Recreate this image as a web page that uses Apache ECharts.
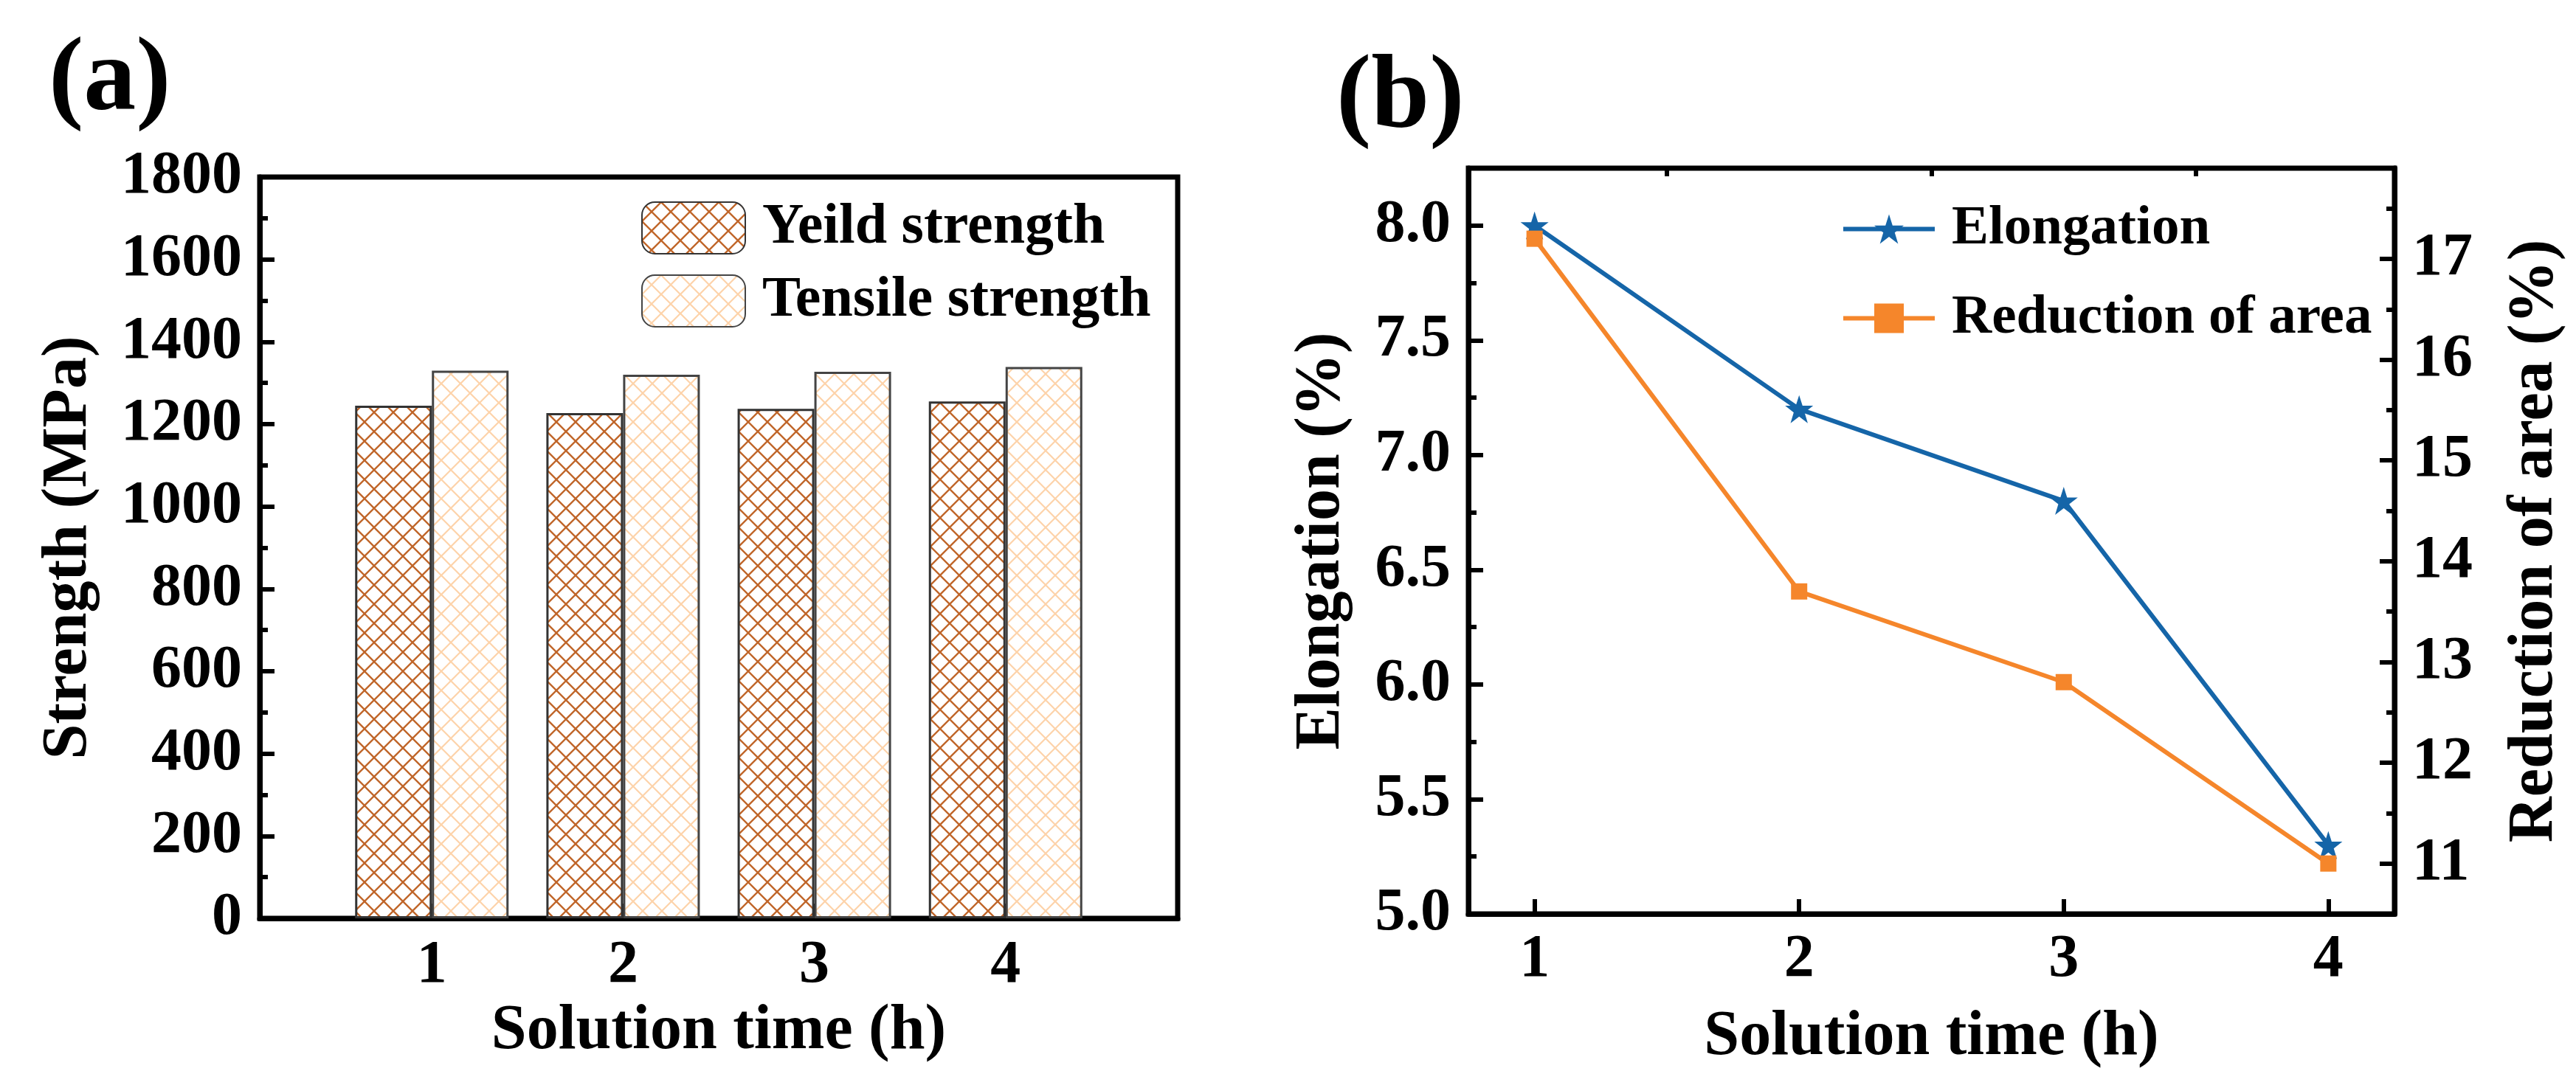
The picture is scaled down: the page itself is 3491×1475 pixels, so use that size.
<!DOCTYPE html>
<html>
<head>
<meta charset="utf-8">
<script src="https://cdn.jsdelivr.net/npm/echarts@6/dist/echarts.min.js"></script>
<style>
html,body{margin:0;padding:0;background:#fff;}
#chart{width:3491px;height:1475px;}
</style>
</head>
<body>
<div id="chart"></div>
<script>
// ---------- data ----------
const categories = [1, 2, 3, 4];
const yieldStrength = [1245, 1227, 1237, 1255];
const tensileStrength = [1330, 1320, 1327, 1339];
const elongation = [8.0, 7.2, 6.8, 5.3];
const reductionOfArea = [17.2, 13.7, 12.8, 11.0];

const strengthTicks = [0, 200, 400, 600, 800, 1000, 1200, 1400, 1600, 1800];
const timeTicks = [1, 2, 3, 4];
const timeMinorTicks = [1.5, 2.5, 3.5];
const elongTicks = [5.0, 5.5, 6.0, 6.5, 7.0, 7.5, 8.0];
const elongMinorTicks = [5.25, 5.75, 6.25, 6.75, 7.25, 7.75];
const areaTicks = [11, 12, 13, 14, 15, 16, 17];
const areaMinorTicks = [11.5, 12.5, 13.5, 14.5, 15.5, 16.5, 17.5];

// ---------- styles ----------
const FONT = "'Liberation Serif', 'Times New Roman', serif";
const txt = (size) => ({ fontFamily: FONT, fontWeight: 'bold', fontSize: size, color: '#000' });

function hatch(color, lw) {
  const c = document.createElement('canvas');
  c.width = 26; c.height = 26;
  const g = c.getContext('2d');
  g.fillStyle = '#fff'; g.fillRect(0, 0, 26, 26);
  g.strokeStyle = color; g.lineWidth = lw;
  g.beginPath();
  g.moveTo(0, 0); g.lineTo(26, 26);
  g.moveTo(26, 0); g.lineTo(0, 26);
  g.stroke();
  return c;
}
const yieldPattern = { image: hatch('#c0662a', 2.4), repeat: 'repeat' };
const tensilePattern = { image: hatch('#fdd3aa', 2.2), repeat: 'repeat' };

const STAR = 'path://M50,0 L61.8,35.3 L99,35.3 L69,57.6 L80.2,93 L50,71 L19.8,93 L31,57.6 L1,35.3 L38.2,35.3 Z';
const BLUE = '#1565a8';
const ORANGE = '#f5862b';

const axisLineStyle = { show: true, onZero: false, lineStyle: { color: '#000', width: 7 } };
const majorTick = (vals) => ({ show: true, inside: true, length: 20, lineStyle: { color: '#000', width: 6 }, customValues: vals });
const minorTickAxis = (vals) => ({ show: true, inside: true, length: 11, lineStyle: { color: '#000', width: 6 }, customValues: vals });

const chart = echarts.init(document.getElementById('chart'), null, { renderer: 'canvas' });

const option = {
  backgroundColor: '#fff',
  animation: false,
  graphic: [
    { type: 'text', left: 66, top: 40, style: { text: '(a)', font: "bold 142px 'Liberation Serif', serif", fill: '#000' } },
    { type: 'text', left: 1811, top: 64, style: { text: '(b)', font: "bold 142px 'Liberation Serif', serif", fill: '#000' } }
  ],
  grid: [
    { left: 352, top: 240, width: 1244, height: 1005, show: true, borderColor: '#000', borderWidth: 7, backgroundColor: 'transparent' },
    { left: 1990, top: 228, width: 1255, height: 1011, show: true, borderColor: '#000', borderWidth: 7, backgroundColor: 'transparent' }
  ],
  legend: [
    {
      orient: 'vertical', left: 864, top: 265, itemWidth: 140, itemHeight: 70, itemGap: 21,
      data: ['Yeild strength', 'Tensile strength'],
      textStyle: Object.assign(txt(78), { padding: [0, 0, 0, 18] })
    },
    {
      orient: 'vertical', left: 2490, top: 268, itemWidth: 124, itemHeight: 50, itemGap: 46,
      data: ['Elongation', 'Reduction of area'],
      lineStyle: { width: 6 },
      textStyle: Object.assign(txt(75), { padding: [0, 0, 0, 18] })
    }
  ],
  xAxis: [
    {
      gridIndex: 0, type: 'value', min: 0.1, max: 4.9,
      axisLine: axisLineStyle, axisTick: majorTick(timeTicks),
      axisLabel: Object.assign(txt(82), { margin: 24, customValues: timeTicks }),
      splitLine: { show: false },
      name: 'Solution time (h)', nameLocation: 'middle', nameGap: 110, nameTextStyle: txt(86)
    },
    {
      gridIndex: 1, type: 'value', min: 0.75, max: 4.25,
      axisLine: axisLineStyle, axisTick: majorTick(timeTicks),
      axisLabel: Object.assign(txt(82), { margin: 22, customValues: timeTicks }),
      splitLine: { show: false },
      name: 'Solution time (h)', nameLocation: 'middle', nameGap: 125, nameTextStyle: txt(86)
    },
    {
      gridIndex: 1, type: 'value', min: 0.75, max: 4.25,
      axisLine: { show: false }, axisTick: minorTickAxis(timeMinorTicks),
      axisLabel: { show: false }, splitLine: { show: false }
    }
  ],
  yAxis: [
    {
      gridIndex: 0, type: 'value', min: 0, max: 1800, interval: 200,
      axisLine: axisLineStyle,
      axisTick: { show: true, inside: true, length: 20, lineStyle: { color: '#000', width: 6 } },
      minorTick: { show: true, splitNumber: 2, length: 11, lineStyle: { color: '#000', width: 6 } },
      axisLabel: Object.assign(txt(82), { margin: 24, customValues: strengthTicks, formatter: (v) => String(v) }),
      splitLine: { show: false },
      name: 'Strength (MPa)', nameLocation: 'middle', nameGap: 215, nameTextStyle: txt(86)
    },
    {
      gridIndex: 1, type: 'value', min: 5, max: 8.25, position: 'left',
      axisLine: axisLineStyle, axisTick: majorTick(elongTicks),
      axisLabel: Object.assign(txt(82), { margin: 24, customValues: elongTicks, formatter: (v) => Number(v).toFixed(1) }),
      splitLine: { show: false },
      name: 'Elongation (%)', nameLocation: 'middle', nameGap: 155, nameTextStyle: txt(86)
    },
    {
      gridIndex: 1, type: 'value', min: 10.5, max: 17.9, position: 'right',
      axisLine: axisLineStyle, axisTick: majorTick(areaTicks),
      axisLabel: Object.assign(txt(82), { margin: 24, customValues: areaTicks, formatter: (v) => String(v) }),
      splitLine: { show: false },
      name: 'Reduction of area (%)', nameLocation: 'middle', nameGap: 148, nameTextStyle: txt(86)
    },
    {
      gridIndex: 1, type: 'value', min: 5, max: 8.25, position: 'left',
      axisLine: { show: false }, axisTick: minorTickAxis(elongMinorTicks),
      axisLabel: { show: false }, splitLine: { show: false }
    },
    {
      gridIndex: 1, type: 'value', min: 10.5, max: 17.9, position: 'right',
      axisLine: { show: false }, axisTick: minorTickAxis(areaMinorTicks),
      axisLabel: { show: false }, splitLine: { show: false }
    }
  ],
  series: [
    {
      name: 'Yeild strength', type: 'bar', xAxisIndex: 0, yAxisIndex: 0,
      barWidth: 104, barGap: '0%',
      itemStyle: { color: yieldPattern, borderColor: '#333', borderWidth: 3 },
      data: categories.map((c, i) => [c, yieldStrength[i]])
    },
    {
      name: 'Tensile strength', type: 'bar', xAxisIndex: 0, yAxisIndex: 0,
      barWidth: 104, barGap: '0%',
      itemStyle: { color: tensilePattern, borderColor: '#444', borderWidth: 3 },
      data: categories.map((c, i) => [c, tensileStrength[i]])
    },
    {
      name: 'Elongation', type: 'line', xAxisIndex: 1, yAxisIndex: 1,
      symbol: STAR, symbolSize: 38,
      lineStyle: { color: BLUE, width: 6 }, itemStyle: { color: BLUE },
      data: categories.map((c, i) => [c, elongation[i]])
    },
    {
      name: 'Reduction of area', type: 'line', xAxisIndex: 1, yAxisIndex: 2,
      symbol: 'rect', symbolSize: 22,
      lineStyle: { color: ORANGE, width: 6 }, itemStyle: { color: ORANGE },
      data: categories.map((c, i) => [c, reductionOfArea[i]])
    }
  ]
};
chart.setOption(option);
</script>
</body>
</html>
